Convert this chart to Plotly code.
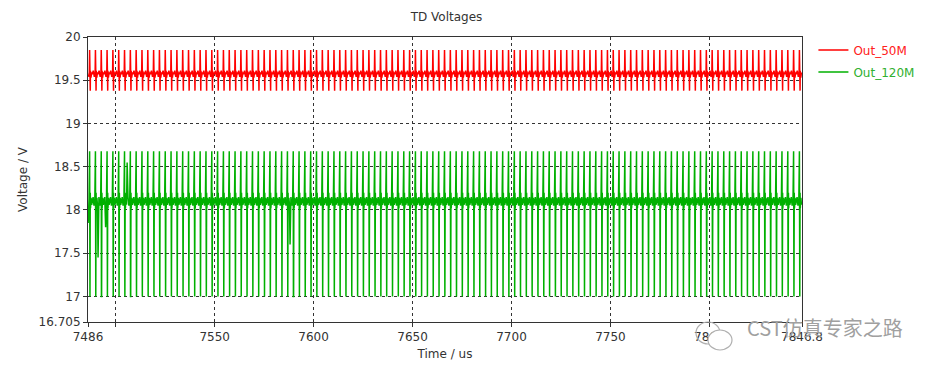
import numpy as np
import plotly.graph_objects as go

# ---- data ----
x_range = [7486, 7846.8]
y_range = [16.705, 20]
x_tickvals = [7486, 7500, 7550, 7600, 7650, 7700, 7750, 7800, 7846.8]
x_ticktext = ["7486", "", "7550", "7600", "7650", "7700", "7750", "7800", "7846.8"]
y_tickvals = [16.705, 17, 17.5, 18, 18.5, 19, 19.5, 20]
y_ticktext = ["16.705", "17", "17.5", "18", "18.5", "19", "19.5", "20"]

switch_period_us = 2.94      # spacing of the spikes
first_cycle_us = 7485.2

# one switching cycle (phase within cycle, voltage)
out50_phase = [0.00, 0.18, 0.36, 0.50, 0.55, 0.575, 0.62, 0.66, 0.69, 0.78, 0.90]
out50_volts = [19.57, 19.61, 19.54, 19.59, 19.85, 19.58, 19.56, 19.38, 19.61, 19.53, 19.59]

out120_phase = [0.00, 0.15, 0.30, 0.45, 0.55, 0.58, 0.61, 0.66, 0.70, 0.80, 0.90]
out120_volts = [18.10, 18.15, 18.05, 18.13, 18.68, 17.00, 17.00, 18.20, 18.02, 18.14, 18.06]

# occasional deeper excursions on Out_120M (time, voltage)
out120_event_t = [7486.3, 7491.2, 7494.8, 7505.8, 7588.0, 7790.0]
out120_event_v = [17.85, 17.45, 17.80, 18.55, 17.60, 17.65]


def build(phase, volts, ev_t=(), ev_v=()):
    t, v = [], []
    k = 0
    while first_cycle_us + k * switch_period_us < x_range[1] + switch_period_us:
        base = first_cycle_us + k * switch_period_us
        for p, val in zip(phase, volts):
            t.append(base + p * switch_period_us)
            v.append(val)
        k += 1
    t = np.array(t)
    v = np.array(v)
    for et, ev in zip(ev_t, ev_v):
        i = int(np.argmin(np.abs(t - et)))
        v[i] = ev
    m = (t >= x_range[0]) & (t <= x_range[1])
    return t[m], v[m]


t50, v50 = build(out50_phase, out50_volts)
t120, v120 = build(out120_phase, out120_volts, out120_event_t, out120_event_v)

FONT = "DejaVu Sans"
fig = go.Figure()
fig.add_trace(go.Scatter(x=t50, y=v50, mode="lines", legendgroup="a",
                         line=dict(color="#ff0000", width=1.5),
                         name="<span style='color:#ff2020'>Out_50M</span>"))
fig.add_trace(go.Scatter(x=t120, y=v120, mode="lines", legendgroup="b",
                         line=dict(color="#00b000", width=1.5),
                         name="<span style='color:#30b030'>Out_120M</span>"))

axis_common = dict(showline=True, linecolor="#333333", linewidth=1, mirror=True,
                   ticks="outside", ticklen=4, tickcolor="#333333",
                   showgrid=True, gridcolor="#333333", gridwidth=1, griddash="3px,3px",
                   zeroline=False, tickfont=dict(family=FONT, size=12, color="#333333"))

fig.update_xaxes(range=x_range, tickmode="array", tickvals=x_tickvals, ticktext=x_ticktext,
                 title=dict(text="Time / us", font=dict(family=FONT, size=12, color="#333333"),
                            standoff=6),
                 **axis_common)
fig.update_yaxes(range=y_range, tickmode="array", tickvals=y_tickvals, ticktext=y_ticktext,
                 title=dict(text="Voltage / V", font=dict(family=FONT, size=12, color="#333333"),
                            standoff=8),
                 **axis_common)

fig.update_layout(
    width=940, height=371,
    margin=dict(l=88, r=138, t=37, b=49),
    paper_bgcolor="white", plot_bgcolor="white",
    title=dict(text="TD Voltages", x=0.475, xanchor="center", y=0.955, yanchor="middle",
               font=dict(family=FONT, size=12, color="#333333")),
    legend=dict(x=1.016, y=1.005, xanchor="left", yanchor="top",
                font=dict(family=FONT, size=12), bgcolor="rgba(0,0,0,0)",
                traceorder="grouped", tracegroupgap=3, itemwidth=30),
    showlegend=True,
)

# watermark
fig.add_annotation(text="CST仿真专家之路", xref="paper", yref="paper",
                   x=1.032, y=-0.02, xanchor="center", yanchor="middle", showarrow=False,
                   font=dict(family="Noto Sans CJK SC", size=20, color="#a0a0a0"))
fig.add_shape(type="circle", xref="paper", yref="paper",
              x0=(696 - 88) / 714, x1=(720 - 88) / 714, y0=(322 - 344) / 285, y1=(322 - 322) / 285,
              line=dict(color="#b0b0b0", width=1.2), fillcolor="rgba(0,0,0,0)", layer="above")
fig.add_shape(type="circle", xref="paper", yref="paper",
              x0=(708 - 88) / 714, x1=(732 - 88) / 714, y0=(322 - 350) / 285, y1=(322 - 330) / 285,
              line=dict(color="#b0b0b0", width=1.2), fillcolor="white", layer="above")

fig.write_html("out.html", config={"displayModeBar": False},
               post_script="document.body.style.margin='0';")
